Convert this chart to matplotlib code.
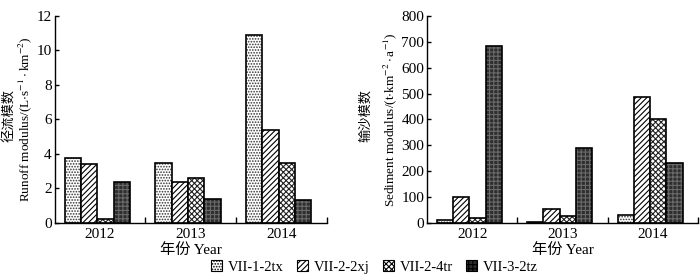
import numpy as np
import matplotlib.pyplot as plt
from matplotlib.patches import Patch

plt.rcParams['font.family'] = ['Liberation Serif', 'Noto Sans CJK SC']
plt.rcParams['mathtext.fontset'] = 'stix'
plt.rcParams['hatch.linewidth'] = 0.8

# data
years = ['2012', '2013', '2014']
series = ['VII-1-2tx', 'VII-2-2xj', 'VII-2-4tr', 'VII-3-2tz']
runoff = [
    [3.75, 3.5, 10.9],   # VII-1-2tx
    [3.4, 2.35, 5.4],    # VII-2-2xj
    [0.2, 2.6, 3.5],     # VII-2-4tr
    [2.35, 1.4, 1.3],    # VII-3-2tz
]
sediment = [
    [10, 2, 30],
    [100, 55, 485],
    [20, 25, 400],
    [685, 290, 232],
]

# bar styles (face, hatch, hatch colour)
faces = ['white', 'white', 'white', '#2e2e2e']
hatches = ['......', '//////', 'xxxxxx', '++++']
hatch_cols = ['#333333', 'black', '#222222', '#6a6a6a']

bw = 0.18
x = np.arange(len(years))
offsets = (np.arange(4) - 1.5) * bw - 0.03

fig = plt.figure(figsize=(7, 2.8), dpi=100)
ax1 = fig.add_axes([0.078, 0.204, 0.389, 0.739])
ax2 = fig.add_axes([0.610, 0.204, 0.387, 0.739])


def draw(ax, data, ymax, ystep, cn, en, cn_off):
    for i in range(4):
        ax.bar(x + offsets[i], data[i], bw, color=faces[i], hatch=hatches[i],
               edgecolor=hatch_cols[i], linewidth=0)
        ax.bar(x + offsets[i], data[i], bw, fill=False, edgecolor='black', linewidth=1.2)
    ax.set_xlim(-0.5, 2.5)
    ax.set_ylim(0, ymax)
    ax.set_yticks(np.arange(0, ymax + 1e-9, ystep))
    ax.set_xticks(x)
    ax.set_xticklabels(years)
    ax.set_xticks([0.5, 1.5, 2.5], minor=True)
    ax.tick_params(axis='x', which='major', length=0, labelsize=11, pad=4)
    ax.tick_params(axis='x', which='minor', direction='in', length=4, width=1)
    ax.tick_params(axis='y', direction='in', length=3, width=1, labelsize=11, pad=2)
    ax.spines['top'].set_visible(False)
    ax.spines['right'].set_visible(False)
    ax.spines['left'].set_linewidth(1)
    ax.spines['bottom'].set_linewidth(1)
    ax.set_xlabel('年份 Year', fontsize=11, labelpad=1)
    # English line as the y label, Chinese line just outside it
    ax.set_ylabel(en, fontsize=9.5, labelpad=2)
    ax.annotate(cn, xy=(0, 0.52), xycoords='axes fraction', xytext=(-cn_off, 0),
                textcoords='offset points', rotation=90, ha='center', va='center',
                fontsize=9.5)


draw(ax1, runoff, 12, 2, '径流模数',
     'Runoff modulus/(L$\\cdot$s$^{-1}\\cdot$km$^{-2}$)', 32)
draw(ax2, sediment, 800, 100, '输沙模数',
     'Sediment modulus/(t$\\cdot$km$^{-2}\\cdot$a$^{-1}$)', 44)

handles = [Patch(facecolor=faces[i], hatch=hatches[i], edgecolor='black', linewidth=0.8)
           for i in range(4)]
fig.legend(handles, series, loc='lower center', bbox_to_anchor=(0.535, -0.025), ncol=4,
           frameon=False, fontsize=10.5, handlelength=0.75, handleheight=0.75,
           handletextpad=0.4, columnspacing=0.9)

fig.savefig('out.png', dpi=100)
